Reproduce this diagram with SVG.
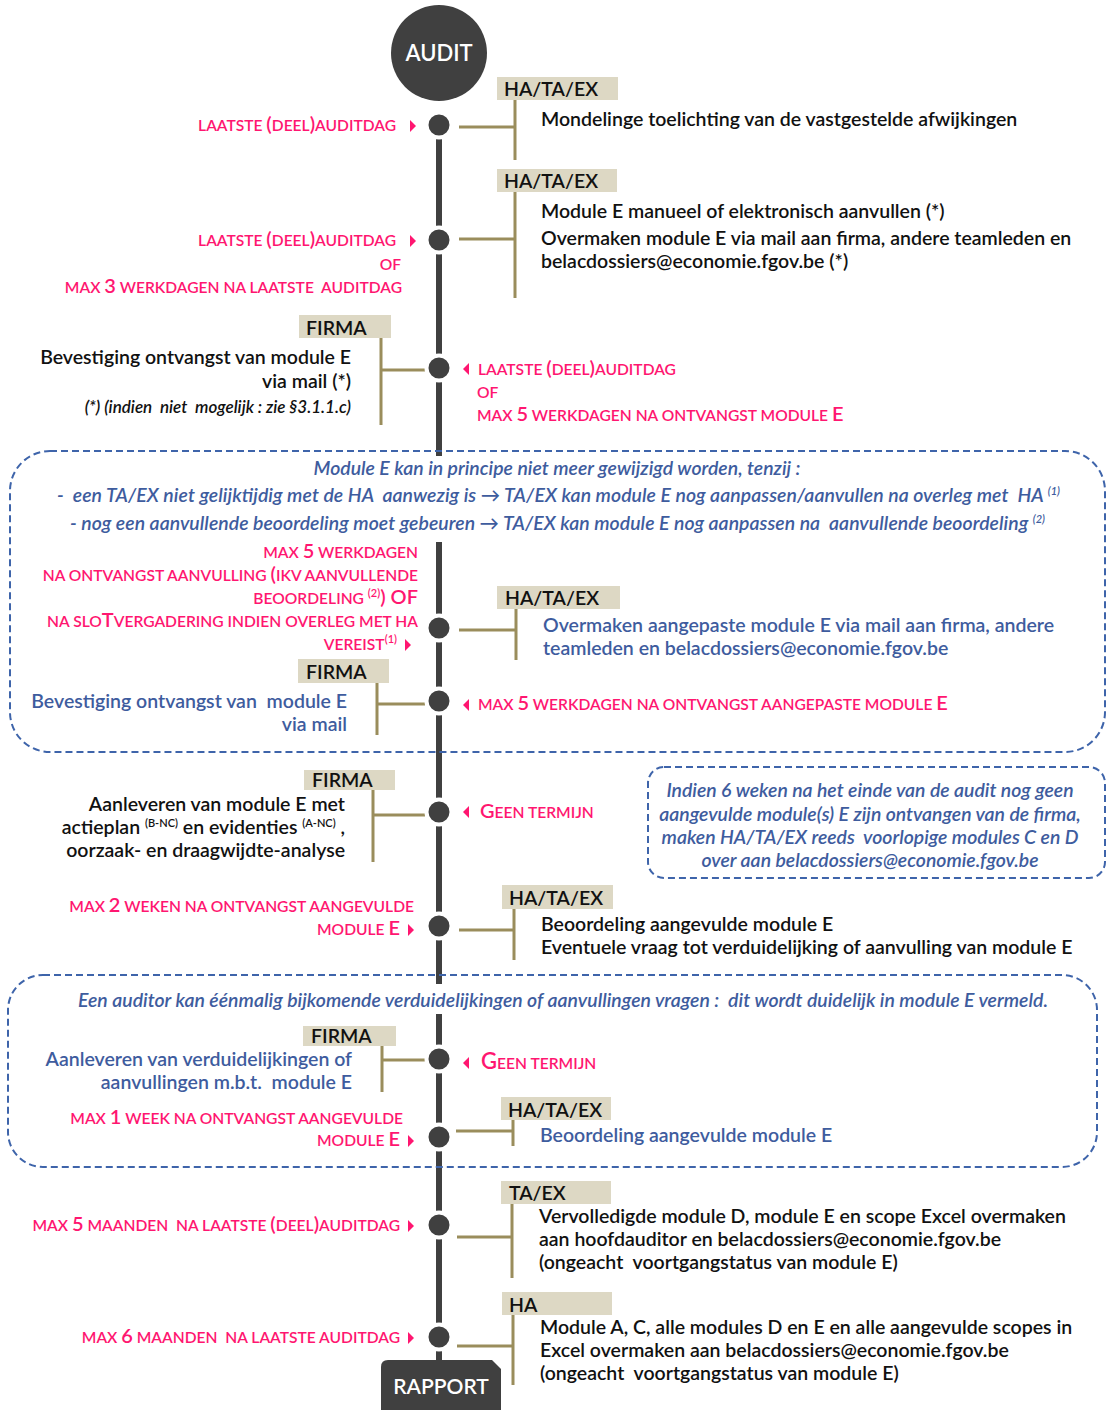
<svg xmlns="http://www.w3.org/2000/svg" width="1107" height="1410" viewBox="0 0 1107 1410">
<style>
text{font-family:Lato,"Liberation Sans",sans-serif;white-space:pre;}
.lbl{font-size:19.5px;font-weight:600;fill:#111;}
.t{font-size:19.5px;font-weight:600;fill:#111;}
.b{fill:#3E5C9E;}
.pk{font-size:15.6px;font-weight:600;fill:#FF1670;}
.bg{font-size:20px;}
.sup{font-size:11px;}
.it{font-style:italic;font-weight:600;font-size:19.4px;fill:#3E5C9E;}
.note{font-style:italic;font-weight:600;font-size:17px;fill:#111;}
.box{fill:#DDD8C4;}
.br{stroke:#9A8D5C;stroke-width:3;fill:none;}
.dot{fill:#404040;stroke:#fff;stroke-width:4;}
.tri{fill:#FF1670;}
.dash{fill:none;stroke:#3E64AA;stroke-width:2;stroke-dasharray:7 4;}
</style>

<g id="connectors">
<line x1="439" y1="112" x2="439" y2="1362" stroke="#404040" stroke-width="6"/>
<rect x="430" y="456" width="20" height="86" fill="#fff"/>
<rect x="430" y="984" width="20" height="30" fill="#fff"/>
<path class="br" d="M459 127H515M515 100V160"/>
<path class="br" d="M459 239H515M515 192V298"/>
<path class="br" d="M425 370H381M381 338V425"/>
<path class="br" d="M459 630H516M516 609V660"/>
<path class="br" d="M425 704H377M377 683V735"/>
<path class="br" d="M425 815H373M373 789V862"/>
<path class="br" d="M459 930H514M514 909V960"/>
<path class="br" d="M425 1060H382M382 1045V1092"/>
<path class="br" d="M456 1131H513M513 1120V1146"/>
<path class="br" d="M457 1237H512M512 1204V1278"/>
<path class="br" d="M457 1346H513M513 1315V1385"/>
</g>

<g id="audit">
<circle cx="439" cy="53" r="48" fill="#404040"/>
<text x="439" y="61" text-anchor="middle" font-size="22" font-weight="600" fill="#fff">AUDIT</text>
</g>

<g id="box-tenzij">
<rect class="dash" x="10" y="451" width="1095" height="301" rx="40"/>
<text class="it" x="557" y="475" text-anchor="middle" textLength="487">Module E kan in principe niet meer gewijzigd worden, tenzij :</text>
<text class="it" x="57" y="502" textLength="1003">-  een TA/EX niet gelijktijdig met de HA  aanwezig is → TA/EX kan module E nog aanpassen/aanvullen na overleg met  HA <tspan class="sup" dy="-7">(1)</tspan></text>
<text class="it" x="70" y="530" textLength="975">- nog een aanvullende beoordeling moet gebeuren → TA/EX kan module E nog aanpassen na  aanvullende beoordeling <tspan class="sup" dy="-7">(2)</tspan></text>
</g>

<g id="box-6weken">
<rect class="dash" x="648" y="767" width="457" height="111" rx="16"/>
<text class="it" x="870" y="797" text-anchor="middle" font-weight="500">Indien 6 weken na het einde van de audit nog geen</text>
<text class="it" x="870" y="821" text-anchor="middle" font-weight="500">aangevulde module(s) E zijn ontvangen van de firma,</text>
<text class="it" x="870" y="844" text-anchor="middle" font-weight="500">maken HA/TA/EX reeds  voorlopige modules C en D</text>
<text class="it" x="870" y="867" text-anchor="middle" font-weight="500">over aan belacdossiers@economie.fgov.be</text>
</g>

<g id="box-eenmalig">
<rect class="dash" x="8" y="975" width="1089" height="192" rx="35"/>
<text class="it" x="563" y="1007" text-anchor="middle" textLength="970">Een auditor kan éénmalig bijkomende verduidelijkingen of aanvullingen vragen :  dit wordt duidelijk in module E vermeld.</text>
</g>

<g id="n1">
<circle class="dot" cx="439" cy="125" r="12.5"/>
<rect class="box" x="497" y="77" width="121" height="23"/>
<text class="lbl" x="504" y="96">HA/TA/EX</text>
<text class="t" x="541" y="126">Mondelinge toelichting van de vastgestelde afwijkingen</text>
<text class="pk" x="396" y="131" text-anchor="end">LAATSTE <tspan class="bg">(</tspan>DEEL<tspan class="bg">)</tspan>AUDITDAG</text>
<path class="tri" d="M410 120L416 126L410 132Z"/>
</g>

<g id="n2">
<circle class="dot" cx="439" cy="240" r="12.5"/>
<rect class="box" x="497" y="169" width="120" height="23"/>
<text class="lbl" x="504" y="188">HA/TA/EX</text>
<text class="t" x="541" y="218">Module E manueel of elektronisch aanvullen (*)</text>
<text class="t" x="541" y="245">Overmaken module E via mail aan firma, andere teamleden en</text>
<text class="t" x="541" y="268">belacdossiers@economie.fgov.be (*)</text>
<text class="pk" x="396" y="246" text-anchor="end">LAATSTE <tspan class="bg">(</tspan>DEEL<tspan class="bg">)</tspan>AUDITDAG</text>
<path class="tri" d="M410 235L416 241L410 247Z"/>
<text class="pk" x="401" y="270" text-anchor="end">OF</text>
<text class="pk" x="402" y="293" text-anchor="end">MAX <tspan class="bg">3</tspan> WERKDAGEN NA LAATSTE  AUDITDAG</text>
</g>

<g id="n3">
<circle class="dot" cx="439" cy="368" r="12.5"/>
<rect class="box" x="299" y="315" width="92" height="23"/>
<text class="lbl" x="306" y="335">FIRMA</text>
<text class="t" x="351" y="364" text-anchor="end">Bevestiging ontvangst van module E</text>
<text class="t" x="351" y="388" text-anchor="end">via mail (*)</text>
<text class="note" x="351" y="413" text-anchor="end">(*) (indien  niet  mogelijk : zie §3.1.1.c)</text>
<path class="tri" d="M469 363L463 369L469 375Z"/>
<text class="pk" x="478" y="375">LAATSTE <tspan class="bg">(</tspan>DEEL<tspan class="bg">)</tspan>AUDITDAG</text>
<text class="pk" x="477" y="398">OF</text>
<text class="pk" x="477" y="421">MAX <tspan class="bg">5</tspan> WERKDAGEN NA ONTVANGST MODULE <tspan class="bg">E</tspan></text>
</g>

<g id="n4">
<circle class="dot" cx="439" cy="628" r="12.5"/>
<rect class="box" x="497" y="586" width="123" height="23"/>
<text class="lbl" x="505" y="605">HA/TA/EX</text>
<text class="t b" x="543" y="632">Overmaken aangepaste module E via mail aan firma, andere</text>
<text class="t b" x="543" y="655">teamleden en belacdossiers@economie.fgov.be</text>
<text class="pk" x="418" y="558" text-anchor="end">MAX <tspan class="bg">5</tspan> WERKDAGEN</text>
<text class="pk" x="418" y="581" text-anchor="end">NA ONTVANGST AANVULLING <tspan class="bg">(</tspan>IKV AANVULLENDE</text>
<text class="pk" x="418" y="604" text-anchor="end">BEOORDELING <tspan class="sup" dy="-7">(2)</tspan><tspan class="bg" dy="7">) OF</tspan></text>
<text class="pk" x="418" y="627" text-anchor="end">NA SLO<tspan class="bg">T</tspan>VERGADERING INDIEN OVERLEG MET HA</text>
<text class="pk" x="397" y="650" text-anchor="end">VEREIST<tspan class="sup" dy="-7">(1)</tspan></text>
<path class="tri" d="M405 639L411 645L405 651Z"/>
</g>

<g id="n5">
<circle class="dot" cx="439" cy="701" r="12.5"/>
<rect class="box" x="298" y="659" width="91" height="24"/>
<text class="lbl" x="306" y="679">FIRMA</text>
<text class="t b" x="347" y="708" text-anchor="end">Bevestiging ontvangst van  module E</text>
<text class="t b" x="347" y="731" text-anchor="end">via mail</text>
<path class="tri" d="M469 699L463 705L469 711Z"/>
<text class="pk" x="478" y="710">MAX <tspan class="bg">5</tspan> WERKDAGEN NA ONTVANGST AANGEPASTE MODULE <tspan class="bg">E</tspan></text>
</g>

<g id="n6">
<circle class="dot" cx="439" cy="812" r="12.5"/>
<rect class="box" x="304" y="770" width="91" height="20"/>
<text class="lbl" x="312" y="787">FIRMA</text>
<text class="t" x="345" y="811" text-anchor="end">Aanleveren van module E met</text>
<text class="t" x="345" y="834" text-anchor="end">actieplan <tspan class="sup" dy="-7">(B-NC)</tspan><tspan dy="7"> en evidenties </tspan><tspan class="sup" dy="-7">(A-NC)</tspan><tspan dy="7"> ,</tspan></text>
<text class="t" x="345" y="857" text-anchor="end">oorzaak- en draagwijdte-analyse</text>
<path class="tri" d="M469 806L463 812L469 818Z"/>
<text class="pk" x="480" y="818"><tspan class="bg">G</tspan>EEN TERMIJN</text>
</g>

<g id="n7">
<circle class="dot" cx="439" cy="926" r="12.5"/>
<rect class="box" x="502" y="885" width="111" height="24"/>
<text class="lbl" x="509" y="905">HA/TA/EX</text>
<text class="t" x="541" y="931">Beoordeling aangevulde module E</text>
<text class="t" x="541" y="954">Eventuele vraag tot verduidelijking of aanvulling van module E</text>
<text class="pk" x="414" y="912" text-anchor="end">MAX <tspan class="bg">2</tspan> WEKEN NA ONTVANGST AANGEVULDE</text>
<text class="pk" x="400" y="935" text-anchor="end">MODULE <tspan class="bg">E</tspan></text>
<path class="tri" d="M408 924L414 930L408 936Z"/>
</g>

<g id="n8">
<circle class="dot" cx="439" cy="1059" r="12.5"/>
<rect class="box" x="303" y="1026" width="93" height="20"/>
<text class="lbl" x="311" y="1043">FIRMA</text>
<text class="t b" x="352" y="1066" text-anchor="end">Aanleveren van verduidelijkingen of</text>
<text class="t b" x="352" y="1089" text-anchor="end">aanvullingen m.b.t.  module E</text>
<path class="tri" d="M469 1057L463 1063L469 1069Z"/>
<text class="pk" x="481" y="1069" font-size="17px"><tspan font-size="22px">G</tspan>EEN TERMIJN</text>
</g>

<g id="n9">
<circle class="dot" cx="439" cy="1137" r="12.5"/>
<rect class="box" x="501" y="1097" width="110" height="23"/>
<text class="lbl" x="508" y="1117">HA/TA/EX</text>
<text class="t b" x="540" y="1142">Beoordeling aangevulde module E</text>
<text class="pk" x="403" y="1124" text-anchor="end">MAX <tspan class="bg">1</tspan> WEEK NA ONTVANGST AANGEVULDE</text>
<text class="pk" x="400" y="1146" text-anchor="end">MODULE <tspan class="bg">E</tspan></text>
<path class="tri" d="M408 1135L414 1141L408 1147Z"/>
</g>

<g id="n10">
<circle class="dot" cx="439" cy="1225" r="12.5"/>
<rect class="box" x="501" y="1181" width="110" height="23"/>
<text class="lbl" x="509" y="1200">TA/EX</text>
<text class="t" x="539" y="1223">Vervolledigde module D, module E en scope Excel overmaken</text>
<text class="t" x="539" y="1246">aan hoofdauditor en belacdossiers@economie.fgov.be</text>
<text class="t" x="539" y="1269">(ongeacht  voortgangstatus van module E)</text>
<text class="pk" x="400" y="1231" text-anchor="end">MAX <tspan class="bg">5</tspan> MAANDEN  NA LAATSTE <tspan class="bg">(</tspan>DEEL<tspan class="bg">)</tspan>AUDITDAG</text>
<path class="tri" d="M408 1220L414 1226L408 1232Z"/>
</g>

<g id="n11">
<circle class="dot" cx="439" cy="1337" r="12.5"/>
<rect class="box" x="502" y="1292" width="110" height="23"/>
<text class="lbl" x="509" y="1312">HA</text>
<text class="t" x="540" y="1334">Module A, C, alle modules D en E en alle aangevulde scopes in</text>
<text class="t" x="540" y="1357">Excel overmaken aan belacdossiers@economie.fgov.be</text>
<text class="t" x="540" y="1380">(ongeacht  voortgangstatus van module E)</text>
<text class="pk" x="400" y="1343" text-anchor="end">MAX <tspan class="bg">6</tspan> MAANDEN  NA LAATSTE AUDITDAG</text>
<path class="tri" d="M408 1332L414 1338L408 1344Z"/>
</g>

<g id="rapport">
<path d="M381 1367Q381 1360 388 1360H492L501 1369V1410H381Z" fill="#404040"/>
<text x="441" y="1394" text-anchor="middle" font-size="21" font-weight="600" fill="#fff">RAPPORT</text>
</g>
</svg>
